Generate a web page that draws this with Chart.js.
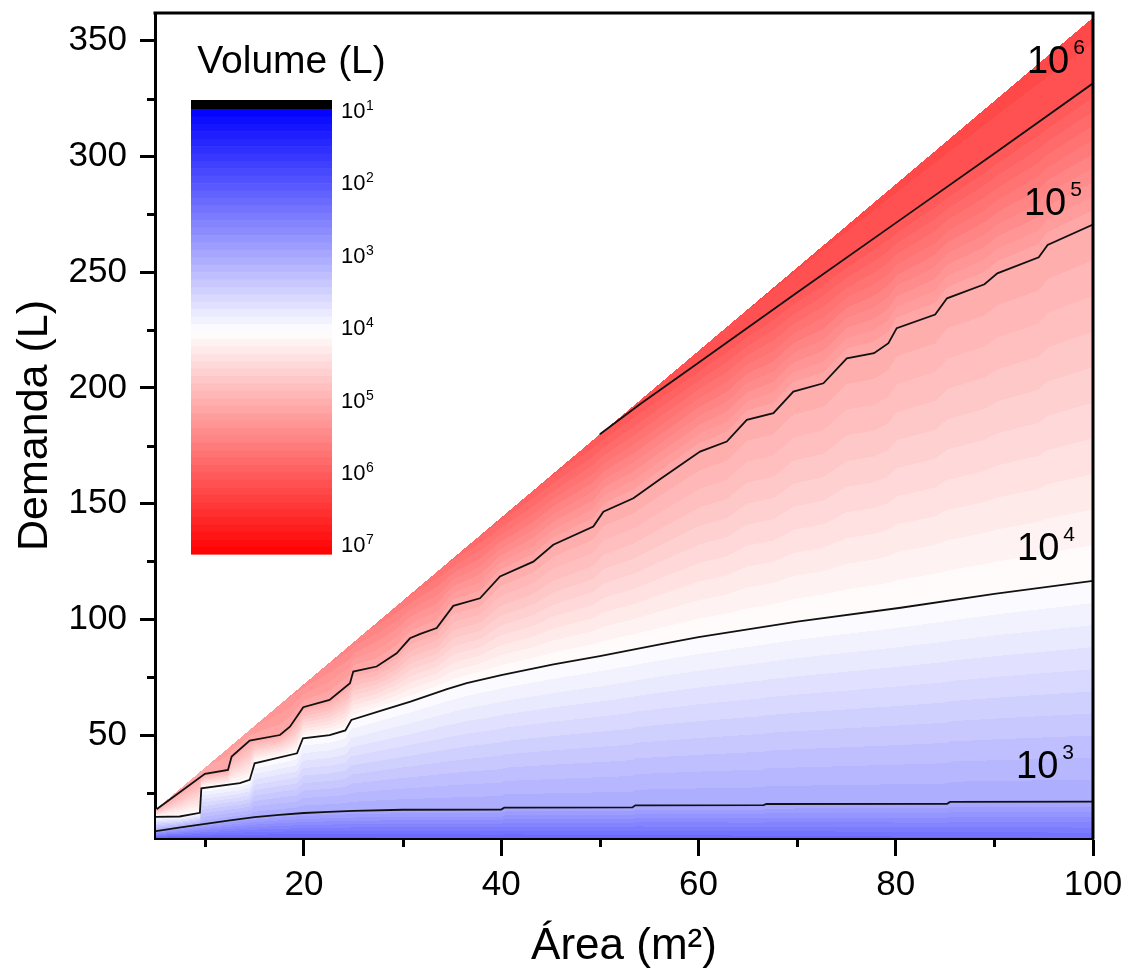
<!DOCTYPE html>
<html>
<head>
<meta charset="utf-8">
<title>Volume (L)</title>
<script src="https://cdn.jsdelivr.net/npm/chart.js@4.4.1/dist/chart.umd.min.js"></script>
<style>
  html, body { margin: 0; padding: 0; background: #fff; }
  #wrap { width: 1126px; height: 970px; }
</style>
</head>
<body>
<div id="wrap"><canvas id="chart" width="1126" height="970"></canvas></div>
<script>
const FONT = "'Liberation Sans', Arial, Helvetica, sans-serif";

// contour lines, Área (m²) vs Demanda (L)
const areaC3 = [5, 7.5, 10, 12.5, 15, 17.5, 20, 22.5, 25, 30, 40, 40.3, 53.3, 53.6, 66.6, 66.9, 85.2, 85.5, 100];
const demC3  = [8.5, 10.1, 11.6, 13.1, 14.5, 15.5, 16.3, 16.8, 17.2, 17.7, 17.8, 18.6, 18.7, 19.6, 19.7, 20.2, 20.3, 21.1, 21.2];

const areaC4 = [5, 7.4, 9.45, 9.6, 13.5, 14.5, 15.0, 19.3, 19.9, 22.6, 24.2, 24.8, 28, 30.8, 34.5, 36.5, 40, 45.3, 50, 56.1, 60, 70, 80.5, 90, 100];
const demC4  = [14.6, 14.8, 16.4, 27, 29.2, 30.6, 37.8, 42.1, 48.6, 50, 52, 56.5, 60.8, 64.4, 69.8, 72.4, 75.9, 80.5, 84.1, 89.2, 92.3, 99, 105, 111, 116.6];

const areaC5 = [5.06, 9.96, 12.3, 12.67, 14.5, 17.57, 18.58, 19.93, 22.6, 24.67, 25, 27.37, 29.4, 30.75, 31.8, 33.46, 35.14, 37.85, 39.88, 43.26, 45.28, 49.34, 50.36, 53.4, 56.1, 60.16, 62.87, 64.9, 67.6, 69.62, 72.67, 75.04, 77.8, 79.26, 80.1, 84, 85.2, 89, 90.3, 94.5, 95.4, 100];
const demC5  = [17.9, 33.2, 34.9, 40.7, 47.6, 50.0, 53.6, 62.0, 65.2, 72.4, 77.4, 79.6, 85.3, 91.8, 93.7, 96.2, 105.8, 109.1, 118.5, 124.9, 132.2, 140.1, 146.5, 152.3, 160.5, 172.5, 176.8, 186.2, 189.1, 198.4, 202, 212.8, 215, 219.3, 225.8, 231.7, 238.7, 244.8, 249.5, 256.4, 261.8, 270.6];

const areaC6 = [50, 54.1, 60, 70, 80.45, 90, 100];
const demC6  = [180, 193, 210.9, 241.2, 272.6, 301.3, 331.6];

// upper edge of the data region and the log10 volume along it
const edgeArea = [5, 100];
const edgeDemand = [18, 360];
const edgeLevelArea = [5, 10, 20, 30, 40, 50, 60, 80, 100];
const edgeLevel = [5.0, 5.1, 5.35, 5.6, 5.85, 6.0, 6.1, 6.13, 6.16];

// log10 volume along the bottom of the plot
const bottomArea = [5, 100];
const bottomLevel = [2.15, 2.3];

// contour labels
const labelExp = ['3', '4', '5', '6'];
const labelArea = [92.2, 92.3, 93.0, 93.3];
const labelDemand = [31.5, 125.7, 274.8, 336.1];

// colour bar
const barExp = ['1', '2', '3', '4', '5', '6', '7'];

const xMinor = [10, 30, 50, 70, 90];
const yMinor = [25, 75, 125, 175, 225, 275, 325];

function interp(xs, ys, v) {
  if (v < xs[0] || v > xs[xs.length - 1]) return null;
  for (let i = 1; i < xs.length; i++) {
    if (v <= xs[i]) {
      const t = (v - xs[i - 1]) / ((xs[i] - xs[i - 1]) || 1);
      return ys[i - 1] + t * (ys[i] - ys[i - 1]);
    }
  }
  return ys[ys.length - 1];
}

// 10^1 blue -> 10^4 white -> 10^7 red
function levelColor(L) {
  if (L <= 4) {
    const v = Math.round(255 * Math.max(0, L - 1) / 3);
    return [v, v, 255];
  }
  const v = Math.round(255 * Math.max(0, 7 - L) / 3);
  return [255, v, v];
}
function bandColor(L) {
  return levelColor(Math.floor(L * 10) / 10 + 0.05);
}

const fieldPlugin = {
  id: 'field',
  beforeDraw(chart) {
    const ctx = chart.ctx;
    ctx.save();
    ctx.fillStyle = '#fff';
    ctx.fillRect(0, 0, chart.width, chart.height);
    ctx.restore();
  },
  beforeDatasetsDraw(chart) {
    const {ctx, chartArea: ca, scales: {x, y}} = chart;
    const r = chart.currentDevicePixelRatio || 1;
    const X0 = Math.floor(ca.left * r), Y0 = Math.floor(ca.top * r);
    const W = Math.ceil(ca.right * r) - X0, H = Math.ceil(ca.bottom * r) - Y0;
    const img = ctx.getImageData(X0, Y0, W, H);
    const d = img.data;
    const dem = new Float64Array(H);
    for (let j = 0; j < H; j++) dem[j] = y.getValueForPixel((Y0 + j + 0.5) / r);
    for (let i = 0; i < W; i++) {
      const A = x.getValueForPixel((X0 + i + 0.5) / r);
      const top = interp(edgeArea, edgeDemand, A);
      if (top === null) continue;
      const knots = [
        [y.min, interp(bottomArea, bottomLevel, A)],
        [interp(areaC3, demC3, A), 3],
        [interp(areaC4, demC4, A), 4]
      ];
      const d5 = interp(areaC5, demC5, A);
      if (d5 !== null && d5 < top) knots.push([d5, 5]);
      const d6 = interp(areaC6, demC6, A);
      if (d6 !== null && d6 < top) knots.push([d6, 6]);
      knots.push([top, interp(edgeLevelArea, edgeLevel, A)]);
      for (let j = 0; j < H; j++) {
        const D = dem[j];
        if (D > top) continue;
        let k = 0;
        while (k < knots.length - 2 && D > knots[k + 1][0]) k++;
        const da = knots[k][0], la = knots[k][1], db = knots[k + 1][0], lb = knots[k + 1][1];
        const L = db > da ? la + (lb - la) * (D - da) / (db - da) : lb;
        const c = bandColor(L);
        const o = (j * W + i) * 4;
        d[o] = c[0]; d[o + 1] = c[1]; d[o + 2] = c[2]; d[o + 3] = 255;
      }
    }
    ctx.putImageData(img, X0, Y0);
  },
  afterDraw(chart) {
    const {ctx, chartArea: ca, scales: {x, y}} = chart;
    ctx.save();
    // frame top / right
    ctx.strokeStyle = '#000';
    ctx.lineWidth = 3;
    ctx.beginPath();
    ctx.moveTo(ca.left - 1.5, ca.top);
    ctx.lineTo(ca.right, ca.top);
    ctx.lineTo(ca.right, ca.bottom + 1.5);
    ctx.stroke();
    // minor ticks
    ctx.beginPath();
    xMinor.forEach(v => {
      const p = Math.round(x.getPixelForValue(v)) + 0.5;
      ctx.moveTo(p, ca.bottom);
      ctx.lineTo(p, ca.bottom + 9);
    });
    yMinor.forEach(v => {
      const p = Math.round(y.getPixelForValue(v)) + 0.5;
      ctx.moveTo(ca.left, p);
      ctx.lineTo(ca.left - 8, p);
    });
    ctx.stroke();

    // contour labels
    ctx.fillStyle = '#000';
    ctx.textBaseline = 'alphabetic';
    ctx.textAlign = 'left';
    labelExp.forEach((e, i) => {
      const px = x.getPixelForValue(labelArea[i]);
      const py = y.getPixelForValue(labelDemand[i]);
      ctx.font = `38px ${FONT}`;
      ctx.fillText('10', px, py);
      const w = ctx.measureText('10').width;
      ctx.font = `21px ${FONT}`;
      ctx.fillText(e, px + w + 4, py - 19);
    });

    // colour bar
    const bx = 191, bw = 141, bTop = 109, bBot = 554;
    ctx.fillStyle = '#000';
    ctx.fillRect(bx, 100, bw, bTop - 100);
    const n = 60, step = (bBot - bTop) / n;
    for (let k = 0; k < n; k++) {
      const c = levelColor(1 + k * 0.1 + 0.05);
      ctx.fillStyle = `rgb(${c[0]},${c[1]},${c[2]})`;
      ctx.fillRect(bx, bTop + k * step, bw, step + 0.6);
    }
    ctx.fillStyle = '#000';
    ctx.font = `39px ${FONT}`;
    ctx.textAlign = 'center';
    ctx.fillText('Volume (L)', 291.5, 73);
    ctx.textAlign = 'left';
    barExp.forEach((e, k) => {
      const by = 118 + k * 72.4;
      ctx.font = `22px ${FONT}`;
      ctx.fillText('10', 341, by);
      ctx.font = `14px ${FONT}`;
      ctx.fillText(e, 366, by - 8);
    });
    ctx.restore();
  }
};

function contour(areas, dems) {
  return {
    data: areas.map((a, i) => ({x: a, y: dems[i]})),
    borderColor: '#111',
    borderWidth: 1.8,
    pointRadius: 0,
    showLine: true,
    fill: false,
    tension: 0
  };
}

new Chart(document.getElementById('chart'), {
  type: 'scatter',
  data: {
    datasets: [
      contour(areaC3, demC3),
      contour(areaC4, demC4),
      contour(areaC5, demC5),
      contour(areaC6, demC6)
    ]
  },
  options: {
    responsive: false,
    devicePixelRatio: 1,
    animation: false,
    layout: { padding: { top: 13, right: 33, left: 0, bottom: 0 } },
    plugins: { legend: { display: false }, tooltip: { enabled: false } },
    scales: {
      x: {
        type: 'linear', min: 4.9, max: 100, z: 1,
        afterFit: s => { s.height = 132; s.paddingLeft = 0; s.paddingRight = 0; },
        ticks: { stepSize: 20, includeBounds: false, autoSkip: false, maxRotation: 0, padding: 8, color: '#000', font: { family: FONT, size: 35 } },
        grid: { drawOnChartArea: false, drawTicks: true, tickLength: 18, tickWidth: 3, tickColor: '#000' },
        border: { display: true, color: '#000', width: 3 },
        title: { display: true, text: 'Área (m²)', color: '#000', font: { family: FONT, size: 44, lineHeight: 1 }, padding: { top: 0, bottom: 1 } }
      },
      y: {
        type: 'linear', min: 5.5, max: 362, z: 1,
        afterFit: s => { s.width = 155; s.paddingTop = 0; s.paddingBottom = 0; },
        ticks: { stepSize: 50, includeBounds: false, autoSkip: false, padding: 13, color: '#000', font: { family: FONT, size: 35 } },
        grid: { drawOnChartArea: false, drawTicks: true, tickLength: 15, tickWidth: 3, tickColor: '#000' },
        border: { display: true, color: '#000', width: 3 },
        title: { display: true, text: 'Demanda (L)', color: '#000', font: { family: FONT, size: 43 }, padding: { top: 9, bottom: 0 } }
      }
    }
  },
  plugins: [fieldPlugin]
});
</script>
</body>
</html>
